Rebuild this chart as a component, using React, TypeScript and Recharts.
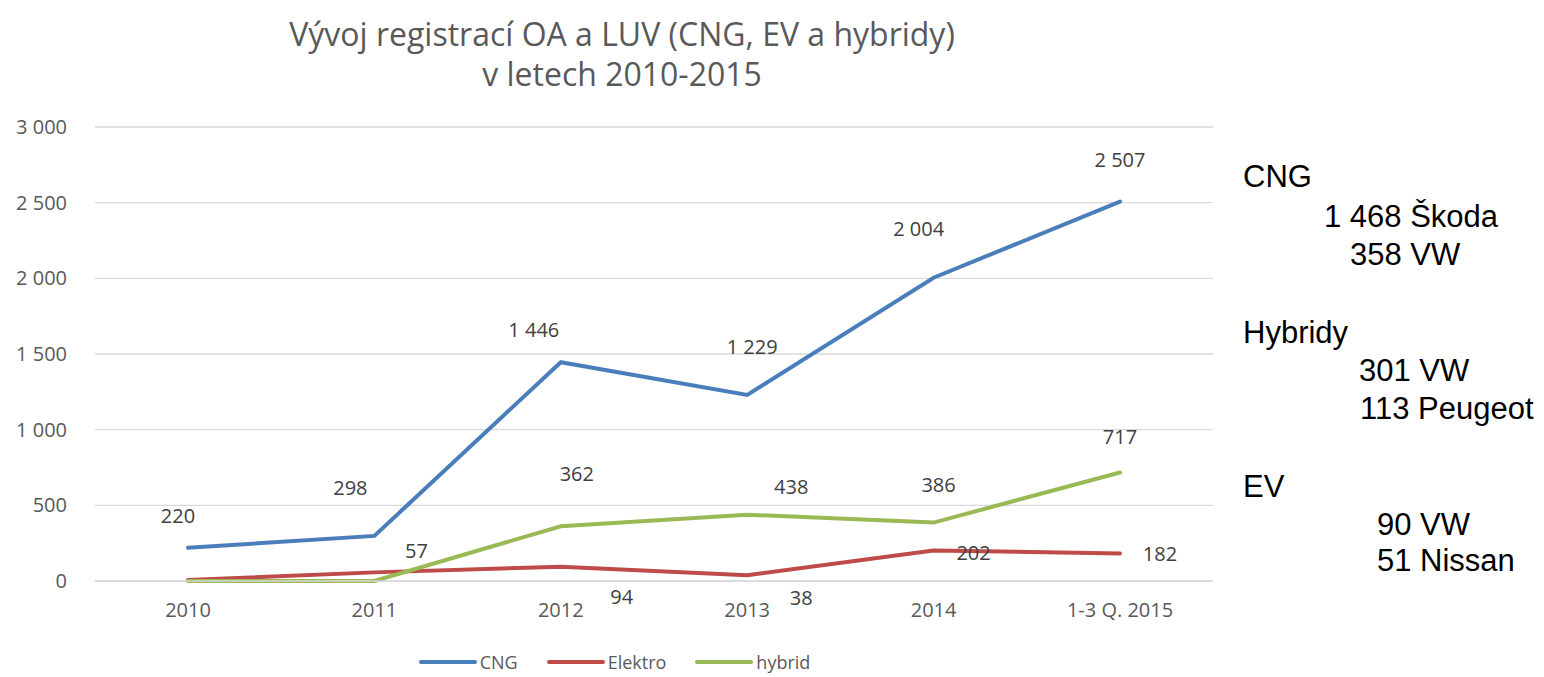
import React from "react"
import { LineChart, Line, XAxis, YAxis, CartesianGrid, Legend, LabelList } from "recharts"

const categories = ["2010", "2011", "2012", "2013", "2014", "1-3 Q. 2015"]
const cngValues = [220, 298, 1446, 1229, 2004, 2507]
const elektroValues = [7, 57, 94, 38, 202, 182]
const hybridValues = [0, 0, 362, 438, 386, 717]
const yTicks = [0, 500, 1000, 1500, 2000, 2500, 3000]

// which data labels are shown in the original
const cngLabelShown = [true, true, true, true, true, true]
const elektroLabelShown = [false, true, true, true, true, true]
const hybridLabelShown = [false, false, true, true, true, true]

// manual label placement (dx, dy from the point)
const cngLabelOffset = [[-10, -32], [-24, -48], [-27, -33], [5, -49], [-15, -49], [0, -42]]
const elektroLabelOffset = [[0, 0], [42, -22], [61, 30], [54, 22], [40, 2], [40, 0]]
const hybridLabelOffset = [[0, 0], [0, 0], [16, -53], [44, -28], [5, -38], [0, -36]]

const notes = [
  { text: "CNG", x: 1243, y: 177 },
  { text: "1 468 Škoda", x: 1324, y: 217 },
  { text: "358 VW", x: 1350, y: 255 },
  { text: "Hybridy", x: 1243, y: 333 },
  { text: "301 VW", x: 1359, y: 371 },
  { text: "113 Peugeot", x: 1360, y: 409 },
  { text: "EV", x: 1243, y: 487 },
  { text: "90 VW", x: 1377, y: 525 },
  { text: "51 Nissan", x: 1377, y: 561 },
]

const FONT = '"Open Sans", sans-serif'

const fmt = (v: number) => String(v).replace(/\B(?=(\d{3})+(?!\d))/g, " ")

const makeLabel = (shown: boolean[], offsets: number[][]) => (props: any) => {
  const { x, y, value, index } = props
  if (!shown[index]) return null
  const [dx, dy] = offsets[index]
  return (
    <text
      x={x + dx}
      y={y + dy}
      textAnchor="middle"
      dominantBaseline="central"
      fill="#404040"
      fontSize={20}
      fontFamily={FONT}
    >
      {fmt(value)}
    </text>
  )
}

const LegendContent = (props: any) => {
  const { payload } = props
  return (
    <div style={{ display: "flex", justifyContent: "center", alignItems: "center", height: 30, gap: 28 }}>
      {(payload || []).map((p: any) => (
        <div key={p.value} style={{ display: "flex", alignItems: "center" }}>
          <svg width={60} height={10}>
            <line x1={3} y1={5} x2={57} y2={5} stroke={p.color} strokeWidth={4} strokeLinecap="round" />
          </svg>
          <span style={{ fontFamily: FONT, fontSize: 18, color: "#595959", marginLeft: 2 }}>{p.value}</span>
        </div>
      ))}
    </div>
  )
}

export default function App() {
  const data = categories.map((c, i) => ({
    name: c,
    cng: cngValues[i],
    elektro: elektroValues[i],
    hybrid: hybridValues[i],
  }))

  return (
    <div style={{ position: "absolute", left: 0, top: 0, width: 1544, height: 677, background: "#fff", overflow: "hidden" }}>
      <div
        style={{
          position: "absolute",
          left: 0,
          width: 1244,
          top: 14,
          textAlign: "center",
          fontFamily: FONT,
          fontSize: 32,
          lineHeight: "40px",
          color: "#595959",
        }}
      >
        Vývoj registrací OA a LUV (CNG, EV a hybridy)
        <br />
        v letech 2010-2015
      </div>

      <LineChart width={1240} height={677} data={data} margin={{ top: 127, right: 27, bottom: 36, left: 15 }}>
        <CartesianGrid vertical={false} stroke="#d9d9d9" strokeWidth={1.3} />
        <XAxis
          dataKey="name"
          padding={{ left: 93, right: 93 }}
          axisLine={{ stroke: "#d9d9d9", strokeWidth: 1.3 }}
          tickLine={false}
          tickSize={0}
          tickMargin={22}
          tick={{ fill: "#595959", fontSize: 20, fontFamily: FONT }}
          height={30}
        />
        <YAxis
          domain={[0, 3000]}
          ticks={yTicks}
          tickFormatter={fmt}
          axisLine={false}
          tickLine={false}
          tickSize={0}
          tickMargin={28}
          width={80}
          tick={{ fill: "#595959", fontSize: 20, fontFamily: FONT }}
        />
        <Legend verticalAlign="bottom" content={<LegendContent />} wrapperStyle={{ bottom: 0, height: 30 }} />
        <Line
          dataKey="cng"
          name="CNG"
          stroke="#4a7ebb"
          strokeWidth={4}
          strokeLinecap="round"
          dot={false}
          isAnimationActive={false}
        >
          <LabelList dataKey="cng" content={makeLabel(cngLabelShown, cngLabelOffset)} />
        </Line>
        <Line
          dataKey="elektro"
          name="Elektro"
          stroke="#be4b48"
          strokeWidth={4}
          strokeLinecap="round"
          dot={false}
          isAnimationActive={false}
        >
          <LabelList dataKey="elektro" content={makeLabel(elektroLabelShown, elektroLabelOffset)} />
        </Line>
        <Line
          dataKey="hybrid"
          name="hybrid"
          stroke="#98b954"
          strokeWidth={4}
          strokeLinecap="round"
          dot={false}
          isAnimationActive={false}
        >
          <LabelList dataKey="hybrid" content={makeLabel(hybridLabelShown, hybridLabelOffset)} />
        </Line>
      </LineChart>

      {notes.map((n) => (
        <div
          key={n.text}
          style={{
            position: "absolute",
            left: n.x,
            top: n.y - 18,
            height: 36,
            lineHeight: "36px",
            fontFamily: '"Liberation Sans", Arial, sans-serif',
            fontSize: 31,
            color: "#000",
            whiteSpace: "nowrap",
          }}
        >
          {n.text}
        </div>
      ))}
    </div>
  )
}
